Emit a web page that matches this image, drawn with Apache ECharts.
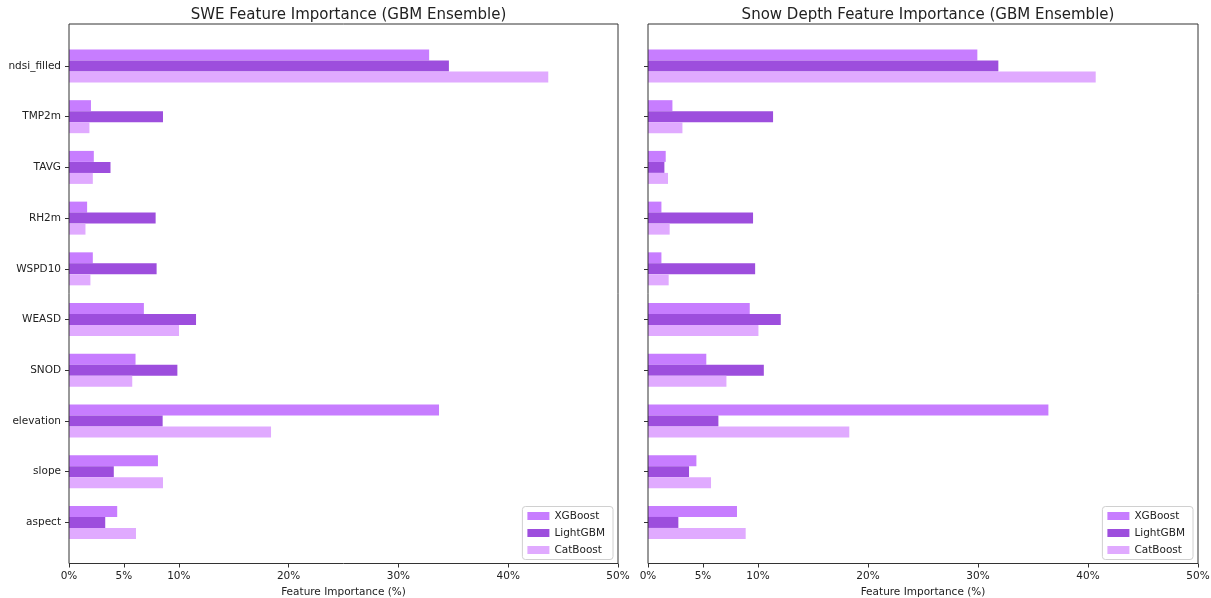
<!DOCTYPE html>
<html>
<head>
<meta charset="utf-8">
<script src="https://cdn.jsdelivr.net/npm/echarts@6/dist/echarts.min.js"></script>
<style>
  html, body { margin: 0; padding: 0; background: #fff; }
  #chart { width: 1211px; height: 598px; }
</style>
</head>
<body>
<div id="chart"></div>
<script>
// Feature names, top to bottom
const features = ['ndsi_filled', 'TMP2m', 'TAVG', 'RH2m', 'WSPD10', 'WEASD', 'SNOD', 'elevation', 'slope', 'aspect'];
const models = ['XGBoost', 'LightGBM', 'CatBoost'];
const modelColors = ['#C77DFF', '#9D4EDD', '#E0AAFF'];

// SWE model importances (%)
const sweXgb  = [32.8, 2.0, 2.26, 1.65, 2.17, 6.82, 6.06, 33.7, 8.1, 4.39];
const sweLgbm = [34.6, 8.56, 3.78, 7.89, 7.98, 11.57, 9.87, 8.53, 4.08, 3.3];
const sweCat  = [43.65, 1.86, 2.17, 1.5, 1.95, 10.02, 5.76, 18.4, 8.56, 6.1];

// Snow depth model importances (%)
const sdXgb  = [29.94, 2.22, 1.61, 1.22, 1.22, 9.25, 5.3, 36.4, 4.4, 8.09];
const sdLgbm = [31.85, 11.37, 1.49, 9.55, 9.74, 12.07, 10.53, 6.4, 3.73, 2.76];
const sdCat  = [40.7, 3.13, 1.82, 1.97, 1.88, 10.04, 7.13, 18.3, 5.73, 8.88];

const xTicks = [0, 5, 10, 20, 30, 40, 50];
const panelTitles = ['SWE Feature Importance (GBM Ensemble)', 'Snow Depth Feature Importance (GBM Ensemble)'];
const xAxisTitle = 'Feature Importance (%)';

const FONT = 'DejaVu Sans';
const W = 1211, H = 598;

// panel geometry: plot frame and inner category band area
const panels = [
  { left: 69, right: 618 },
  { left: 648, right: 1198 }
];
const frameTop = 24, frameBottom = 563.5;
const bandTop = 40.6, bandBottom = 547.8;

const grids = [], xAxes = [], yAxes = [], series = [], titles = [], legends = [];

panels.forEach((p, i) => {
  // data grid (category bands)
  grids.push({
    left: p.left, right: W - p.right, top: bandTop, bottom: H - bandBottom,
    containLabel: false, outerBoundsMode: 'none'
  });
  xAxes.push({
    type: 'value', gridIndex: i, min: 0, max: 50, interval: 5,
    offset: frameBottom - bandBottom,
    axisLine: { show: false },
    axisTick: { show: true, length: 4, customValues: xTicks, lineStyle: { color: '#333' } },
    axisLabel: { customValues: xTicks, formatter: '{value}%', color: '#222', fontFamily: FONT, fontSize: 10.5, margin: 7 },
    splitLine: { show: false },
    name: xAxisTitle, nameLocation: 'middle', nameGap: 21,
    nameTextStyle: { color: '#222', fontFamily: FONT, fontSize: 10.5 }
  });
  yAxes.push({
    type: 'category', gridIndex: i, data: features, inverse: true,
    axisLine: { show: false },
    axisTick: { show: true, length: 4, alignWithLabel: true, lineStyle: { color: '#333' } },
    axisLabel: { show: i === 0, color: '#222', fontFamily: FONT, fontSize: 10.5, margin: 8 },
    splitLine: { show: false }
  });
  titles.push({
    text: panelTitles[i], left: (p.left + p.right) / 2, top: 3, textAlign: 'center',
    textStyle: { color: '#222', fontFamily: FONT, fontSize: 15, fontWeight: 'normal' }
  });
  legends.push({
    data: models, orient: 'vertical', right: W - p.right + 5, bottom: H - frameBottom + 4,
    icon: 'rect', itemWidth: 22, itemHeight: 8, itemGap: 6,
    padding: [4, 8, 4, 5],
    backgroundColor: '#fff', borderColor: '#d0d0d0', borderWidth: 1, borderRadius: 3,
    textStyle: { color: '#222', fontFamily: FONT, fontSize: 10.5 },
    selectedMode: false
  });
});

// frame grids drawn over the data grids
panels.forEach((p, i) => {
  grids.push({
    left: p.left, right: W - p.right, top: frameTop, bottom: H - frameBottom,
    show: true, borderColor: '#333', borderWidth: 1, backgroundColor: 'transparent', z: 5,
    outerBoundsMode: 'none'
  });
  xAxes.push({ type: 'value', gridIndex: 2 + i, show: false, splitLine: { show: false } });
  yAxes.push({ type: 'value', gridIndex: 2 + i, show: false, splitLine: { show: false } });
});

const panelData = [[sweXgb, sweLgbm, sweCat], [sdXgb, sdLgbm, sdCat]];
panelData.forEach((sets, i) => {
  sets.forEach((vals, m) => {
    series.push({
      type: 'bar', name: models[m], xAxisIndex: i, yAxisIndex: i,
      data: vals, barWidth: 11, barGap: '0%',
      itemStyle: { color: modelColors[m] },
      emphasis: { disabled: true }
    });
  });
});

const chart = echarts.init(document.getElementById('chart'), null, { renderer: 'canvas' });
chart.setOption({
  animation: false,
  backgroundColor: '#fff',
  title: titles,
  legend: legends,
  grid: grids,
  xAxis: xAxes,
  yAxis: yAxes,
  series: series
});
</script>
</body>
</html>
